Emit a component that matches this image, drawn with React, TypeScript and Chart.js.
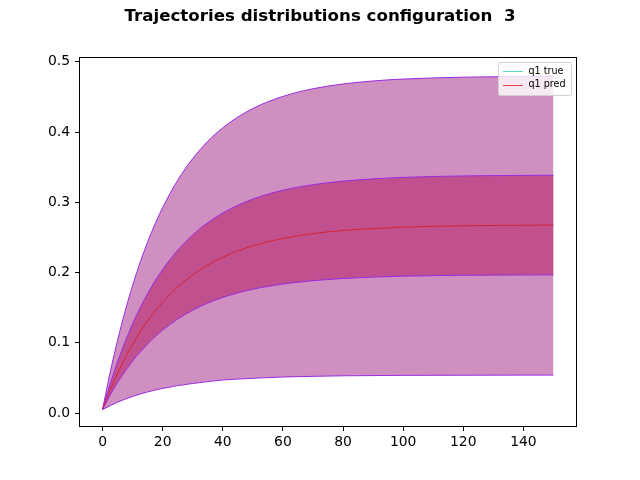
import React, { useEffect, useRef } from 'react';
import { Chart, registerables } from 'chart.js';
Chart.register(...registerables);

const TITLE = 'Trajectories distributions configuration  3';
const xs = [0, 2.5, 5, 7.5, 10, 12.5, 15, 17.5, 20, 25, 30, 35, 40, 45, 50, 55, 60, 65, 70, 75, 80, 90, 100, 120, 150];
const outerUpper = [0.005, 0.0572, 0.1036, 0.1449, 0.1817, 0.2144, 0.2436, 0.2695, 0.2926, 0.3315, 0.3623, 0.3868, 0.4061, 0.4214, 0.4336, 0.4432, 0.4508, 0.4569, 0.4617, 0.4655, 0.4685, 0.4728, 0.4755, 0.4782, 0.4796];
const innerUpper = [0.005, 0.0409, 0.0729, 0.1015, 0.127, 0.1498, 0.1701, 0.1882, 0.2044, 0.2318, 0.2536, 0.271, 0.2848, 0.2958, 0.3046, 0.3116, 0.3172, 0.3216, 0.3251, 0.3279, 0.3302, 0.3334, 0.3355, 0.3376, 0.3386];
const predMean = [0.005, 0.0321, 0.0564, 0.0782, 0.0977, 0.1153, 0.131, 0.1451, 0.1578, 0.1793, 0.1966, 0.2106, 0.2218, 0.2308, 0.2381, 0.2439, 0.2486, 0.2524, 0.2555, 0.2579, 0.2599, 0.2627, 0.2646, 0.2666, 0.2676];
const trueMean = [0.005, 0.0321, 0.0564, 0.0782, 0.0977, 0.1153, 0.131, 0.1451, 0.1578, 0.1793, 0.1966, 0.2106, 0.2218, 0.2308, 0.2381, 0.2439, 0.2486, 0.2524, 0.2555, 0.2579, 0.2599, 0.2627, 0.2646, 0.2666, 0.2676];
const innerLower = [0.005, 0.0252, 0.0433, 0.0594, 0.0739, 0.0868, 0.0984, 0.1088, 0.1181, 0.1338, 0.1464, 0.1565, 0.1646, 0.171, 0.1762, 0.1803, 0.1837, 0.1863, 0.1884, 0.1901, 0.1915, 0.1935, 0.1948, 0.1961, 0.1967];
const outerLower = [0.005, 0.0105, 0.0154, 0.0197, 0.0236, 0.027, 0.03, 0.0327, 0.035, 0.039, 0.042, 0.0447, 0.047, 0.0483, 0.0494, 0.0504, 0.0512, 0.0518, 0.0522, 0.0526, 0.053, 0.0533, 0.0536, 0.0538, 0.054];
const xTicks = [0, 20, 40, 60, 80, 100, 120, 140];
const yTicks = [0, 0.1, 0.2, 0.3, 0.4, 0.5];
const legendLabels = ['q1 true', 'q1 pred'];

const EDGE = '#9a2be2';
const OUTER_FILL = '#cf8fc0';
const INNER_FILL = '#c0508e';
const PRED = 'rgba(220,25,25,0.8)';
const TRUE = 'rgba(72,209,204,0.9)';
const FONT = '"DejaVu Sans", sans-serif';

const pts = (ys: number[]) => xs.map((x, i) => ({ x, y: ys[i] }));

const decor = {
  id: 'decor',
  beforeDraw(chart: any) {
    const c = chart.ctx;
    c.save();
    c.fillStyle = '#fff';
    c.fillRect(0, 0, chart.width, chart.height);
    c.restore();
  },
  afterDraw(chart: any) {
    const c = chart.ctx;
    const a = chart.chartArea;
    c.save();
    c.strokeStyle = '#000';
    c.lineWidth = 1;
    c.strokeRect(Math.round(a.left) - 0.5, Math.round(a.top) - 0.5, Math.round(a.right - a.left) + 1, Math.round(a.bottom - a.top) + 1);
    // title
    c.fillStyle = '#000';
    c.font = `bold 16.67px ${FONT}`;
    c.textAlign = 'center';
    c.textBaseline = 'middle';
    c.fillText(TITLE, 320, 17);
    // legend
    const bx = 498.5, by = 62.5, bw = 73, bh = 33;
    c.beginPath();
    const r = 2;
    c.moveTo(bx + r, by);
    c.lineTo(bx + bw - r, by);
    c.arcTo(bx + bw, by, bx + bw, by + r, r);
    c.lineTo(bx + bw, by + bh - r);
    c.arcTo(bx + bw, by + bh, bx + bw - r, by + bh, r);
    c.lineTo(bx + r, by + bh);
    c.arcTo(bx, by + bh, bx, by + bh - r, r);
    c.lineTo(bx, by + r);
    c.arcTo(bx, by, bx + r, by, r);
    c.closePath();
    c.fillStyle = 'rgba(255,255,255,0.8)';
    c.fill();
    c.strokeStyle = '#d0d0d0';
    c.stroke();
    const colors = [TRUE, PRED];
    legendLabels.forEach((lab, i) => {
      const y = 71.3 + i * 13.4;
      c.strokeStyle = colors[i];
      c.lineWidth = 1;
      c.beginPath();
      c.moveTo(503, Math.round(y) + 0.5);
      c.lineTo(523, Math.round(y) + 0.5);
      c.stroke();
      c.fillStyle = '#000';
      c.font = `9.6px ${FONT}`;
      c.textAlign = 'left';
      c.textBaseline = 'middle';
      c.fillText(lab, 528.5, y);
    });
    c.restore();
  },
};

export default function App() {
  const ref = useRef<HTMLCanvasElement>(null);
  useEffect(() => {
    const line = (ys: number[], extra: any) => ({
      data: pts(ys),
      pointRadius: 0,
      borderWidth: 1,
      cubicInterpolationMode: 'monotone',
      fill: false,
      ...extra,
    });
    const chart = new Chart(ref.current!, {
      type: 'line',
      data: {
        datasets: [
          line(outerUpper, { label: 'outer upper', borderColor: EDGE, backgroundColor: OUTER_FILL, fill: 1, order: 5 }),
          line(outerLower, { label: 'outer lower', borderColor: EDGE, order: 4 }),
          line(innerUpper, { label: 'inner upper', borderColor: EDGE, backgroundColor: INNER_FILL, fill: 3, order: 3 }),
          line(innerLower, { label: 'inner lower', borderColor: EDGE, order: 2 }),
          line(predMean, { label: 'q1 pred', borderColor: PRED, order: 1 }),
          line(trueMean, { label: 'q1 true', borderColor: TRUE, order: 6 }),
        ],
      },
      options: {
        animation: false,
        responsive: false,
        devicePixelRatio: 1,
        layout: { padding: { top: 58, right: 64, left: 0, bottom: 0 } },
        plugins: { legend: { display: false }, title: { display: false }, tooltip: { enabled: false } },
        scales: {
          x: {
            type: 'linear',
            min: -7.5,
            max: 157.5,
            afterBuildTicks: (s: any) => { s.ticks = xTicks.map((v) => ({ value: v })); },
            afterFit: (s: any) => { s.height = 54; },
            grid: { drawOnChartArea: false, drawTicks: true, tickLength: 5, color: '#000' },
            border: { display: false },
            ticks: { color: '#000', font: { family: FONT, size: 13.9 }, padding: 3, maxRotation: 0, callback: (v: any) => String(v) },
          },
          y: {
            type: 'linear',
            min: -0.0185,
            max: 0.5055,
            afterBuildTicks: (s: any) => { s.ticks = yTicks.map((v) => ({ value: v })); },
            afterFit: (s: any) => { s.width = 80; },
            grid: { drawOnChartArea: false, drawTicks: true, tickLength: 5, color: '#000' },
            border: { display: false },
            ticks: { color: '#000', font: { family: FONT, size: 13.9 }, padding: 5, callback: (v: any) => Number(v).toFixed(1) },
          },
        },
      },
      plugins: [decor],
    } as any);
    return () => chart.destroy();
  }, []);
  return (
    <div style={{ position: 'absolute', left: 0, top: 0, width: 640, height: 480 }}>
      <canvas ref={ref} width={640} height={480} style={{ width: 640, height: 480 }} />
    </div>
  );
}
